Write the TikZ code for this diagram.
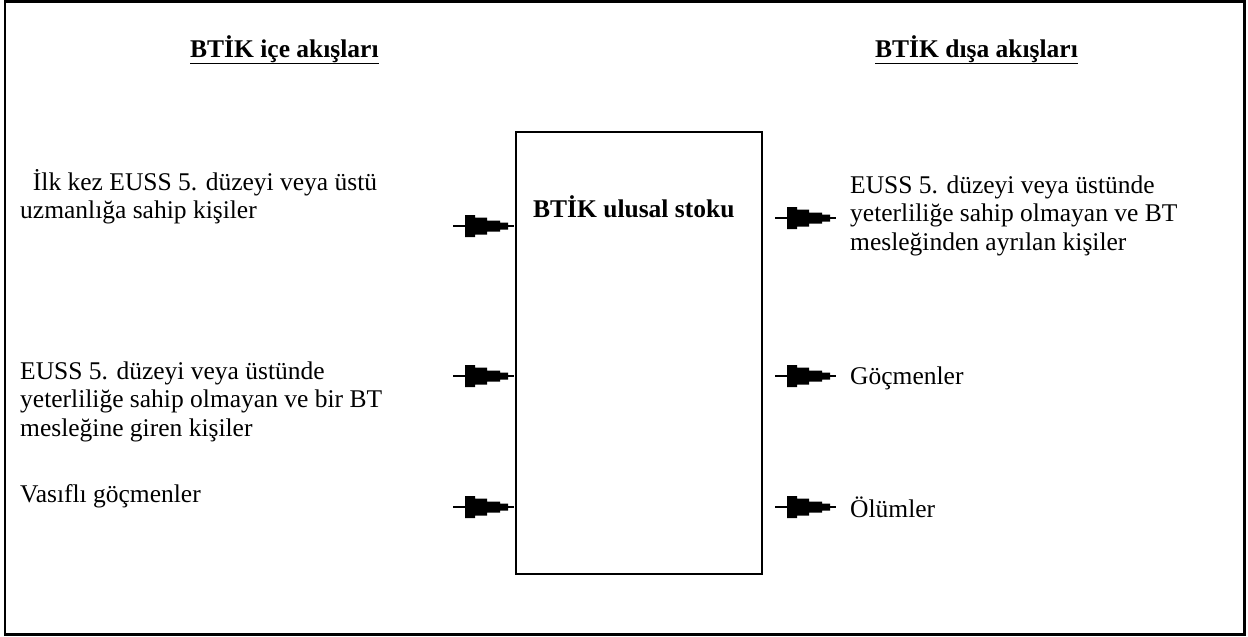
\documentclass[tikz,border=0pt]{standalone}
\usepackage{fontspec}
\setmainfont{Liberation Serif}
\begin{document}
\begin{tikzpicture}[x=1pt,y=-1pt,
  lbl/.style={anchor=base west, inner sep=0pt, font=\fontsize{25.5}{28.5}\selectfont},
  ttl/.style={anchor=base west, inner sep=0pt, font=\fontsize{25.5}{28.5}\selectfont\bfseries},
  flowarrow/.pic={
    \draw[line width=1.2pt] (0,0) -- (61,0);
    \fill (12,-11) -- (22,-11) -- (22,-8.5) -- (34,-8.5) -- (34,-5.5) -- (47,-5.5) -- (47,-3.5) -- (55,-3.5)
       -- (55,3.5) -- (47,3.5) -- (47,5.5) -- (34,5.5) -- (34,8.5) -- (22,8.5) -- (22,11) -- (12,11) -- cycle;
  }]
\useasboundingbox (0,0) rectangle (1248,637);
% outer frame
\draw[line width=2.5pt] (5,1.5) rectangle (1244.5,634.5);
% stock box
\node[draw, line width=2pt, minimum width=246pt, minimum height=442pt, inner sep=0pt, anchor=north west] (stock) at (515,131) {};
\node[ttl] (stockttl) at (533,217) {BTİK ulusal stoku};
% titles
\node[ttl] (inttl) at (190,57) {\underline{BTİK içe akışları}};
\node[ttl] (outttl) at (875,57) {\underline{BTİK dışa akışları}};
% inflow labels (anchored at first baseline)
\node[lbl] (in1) at (20,190) {\vtop{\hbox{\ \ İlk kez EUSS 5. düzeyi veya üstü}\hbox{uzmanlığa sahip kişiler}}};
\node[lbl] (in2) at (20,379) {\vtop{\hbox{EUSS 5. düzeyi veya üstünde}\hbox{yeterliliğe sahip olmayan ve bir BT}\hbox{mesleğine giren kişiler}}};
\node[lbl] (in3) at (20,502) {Vasıflı göçmenler};
% outflow labels
\node[lbl] (out1) at (850,193) {\vtop{\hbox{EUSS 5. düzeyi veya üstünde}\hbox{yeterliliğe sahip olmayan ve BT}\hbox{mesleğinden ayrılan kişiler}}};
\node[lbl] (out2) at (850,384) {Göçmenler};
\node[lbl] (out3) at (850,517) {Ölümler};
% arrows
\coordinate (ia1) at (453,226);
\coordinate (ia2) at (453,376);
\coordinate (ia3) at (453,507);
\coordinate (oa1) at (775,218);
\coordinate (oa2) at (775,376);
\coordinate (oa3) at (775,507);
\pic (pin1) at (ia1) {flowarrow};
\pic (pin2) at (ia2) {flowarrow};
\pic (pin3) at (ia3) {flowarrow};
\pic (pout1) at (oa1) {flowarrow};
\pic (pout2) at (oa2) {flowarrow};
\pic (pout3) at (oa3) {flowarrow};
\end{tikzpicture}
\end{document}
